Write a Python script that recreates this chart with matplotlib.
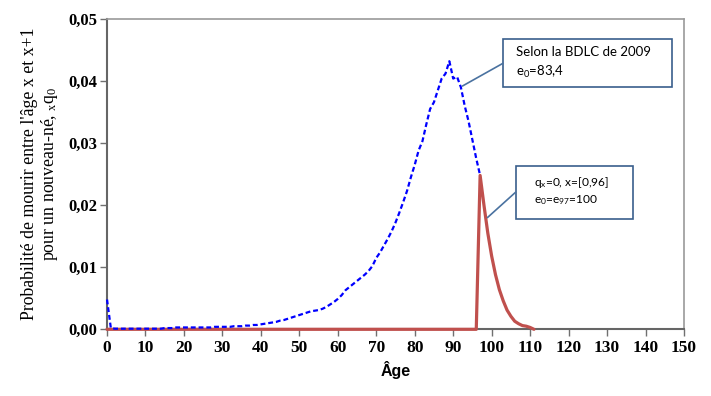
import matplotlib
matplotlib.use("Agg")
import matplotlib.pyplot as plt
from matplotlib.patches import Rectangle
from matplotlib.ticker import FuncFormatter

# Données
ages_bdlc = list(range(0, 98))
q_bdlc = [
    0.0048, 0.0002, 0.0001, 0.0001, 0.0001, 0.0001, 0.0001, 0.0001, 0.0001, 0.0001,
    0.0001, 0.0001, 0.0001, 0.0001, 0.0001, 0.0002, 0.0002, 0.0002, 0.0003, 0.0003,
    0.0003, 0.0003, 0.0003, 0.0003, 0.0003, 0.0003, 0.0003, 0.0003, 0.0004, 0.0004,
    0.0004, 0.0004, 0.0004, 0.0005, 0.0005, 0.0005, 0.0006, 0.0006, 0.0007, 0.0007,
    0.0008, 0.0009, 0.0010, 0.0011, 0.0012, 0.0014, 0.0015, 0.0017, 0.0019, 0.0021,
    0.0023, 0.0025, 0.0027, 0.0029, 0.0030, 0.0031, 0.0033, 0.0036, 0.0040, 0.0044,
    0.0049, 0.0055, 0.0063, 0.0068, 0.0073, 0.0078, 0.0083, 0.0088, 0.0094, 0.0102,
    0.0115, 0.0124, 0.0135, 0.0146, 0.0158, 0.0172, 0.0188, 0.0205, 0.0223, 0.0245,
    0.0265, 0.0288, 0.0303, 0.0330, 0.0355, 0.0366, 0.0385, 0.0404, 0.0412, 0.0432,
    0.0404, 0.0407, 0.0390, 0.0360, 0.0335, 0.0305, 0.0275, 0.0248,
]

ages_e100 = list(range(0, 112))
q_e100 = [0.0] * 97 + [
    0.0248, 0.0200, 0.0155, 0.0118, 0.0088, 0.0064, 0.0046, 0.0031,
    0.0021, 0.0013, 0.0009, 0.0006, 0.0005, 0.0003, 0.0000,
]

x_ticks = list(range(0, 151, 10))
y_ticks = [0.0, 0.01, 0.02, 0.03, 0.04, 0.05]

fig = plt.figure(figsize=(7.11, 3.96), dpi=100)
ax = fig.add_axes([0.1505, 0.1684, 0.8115, 0.7836])

ax.plot(ages_e100, q_e100, color="#c0504d", lw=2.3, solid_capstyle="round",
        clip_on=False, zorder=3)
ax.plot(ages_bdlc, q_bdlc, color="blue", lw=1.6, linestyle=(0, (2.2, 1.3)),
        clip_on=False, zorder=4)

ax.set_xlim(0, 150)
ax.set_ylim(0, 0.05)
ax.set_xticks(x_ticks)
ax.set_yticks(y_ticks)
ax.yaxis.set_major_formatter(FuncFormatter(lambda v, p: f"{v:.2f}".replace(".", ",")))

for lab in ax.get_xticklabels():
    lab.set_fontfamily("Liberation Serif")
    lab.set_fontweight("bold")
    lab.set_fontsize(12.5)
for lab in ax.get_yticklabels():
    lab.set_fontfamily("Liberation Serif")
    lab.set_fontweight("bold")
    lab.set_fontsize(12)

ax.tick_params(axis="x", direction="out", length=5, width=1, color="#707070", pad=3)
ax.tick_params(axis="y", direction="out", length=5, width=1, color="#707070", pad=2)

for side in ["left", "bottom"]:
    ax.spines[side].set_color("#666666")
    ax.spines[side].set_linewidth(1.5)
for side in ["top", "right"]:
    ax.spines[side].set_color("#9a9a9a")
    ax.spines[side].set_linewidth(1.2)

ax.set_xlabel("Âge", fontfamily="Liberation Sans", fontweight="bold", fontsize=11.5, labelpad=3)
ax.set_ylabel("Probabilité de mourir entre l'âge x et x+1\npour un nouveau-né, $\\mathregular{{}_{x}q_{0}}$",
              fontfamily="Liberation Serif", fontsize=12.8, labelpad=6, linespacing=1.05)

arrow_style = dict(arrowstyle="-", color="#4a72a0", lw=1.2, shrinkA=0, shrinkB=0)

# encadré 1
ax.add_patch(Rectangle((0.686, 0.781), 0.293, 0.1545, transform=ax.transAxes,
                       fc="white", ec="#3a5f8c", lw=1.2, zorder=5, clip_on=False))
ax.annotate("", xy=(92.4, 0.0392), xytext=(0.686, 0.857), textcoords="axes fraction",
            arrowprops=arrow_style, zorder=5)
ax.text(0.709, 0.858, "Selon la BDLC de 2009\ne$\\mathregular{_0}$=83,4",
        transform=ax.transAxes, fontfamily="Lato", fontsize=9.5, ha="left", va="center",
        linespacing=1.45, zorder=6)

# encadré 2
ax.add_patch(Rectangle((0.708, 0.3555), 0.204, 0.1715, transform=ax.transAxes,
                       fc="white", ec="#3a5f8c", lw=1.2, zorder=5, clip_on=False))
ax.annotate("", xy=(98.9, 0.0180), xytext=(0.708, 0.4415), textcoords="axes fraction",
            arrowprops=arrow_style, zorder=5)
ax.text(0.740, 0.446, "q$\\mathregular{_x}$=0, x=[0,96]\ne$\\mathregular{_0}$=e$\\mathregular{_{97}}$=100",
        transform=ax.transAxes, fontfamily="Lato", fontsize=8.6, ha="left", va="center",
        linespacing=1.25, zorder=6)

fig.savefig("out.png", dpi=100)
